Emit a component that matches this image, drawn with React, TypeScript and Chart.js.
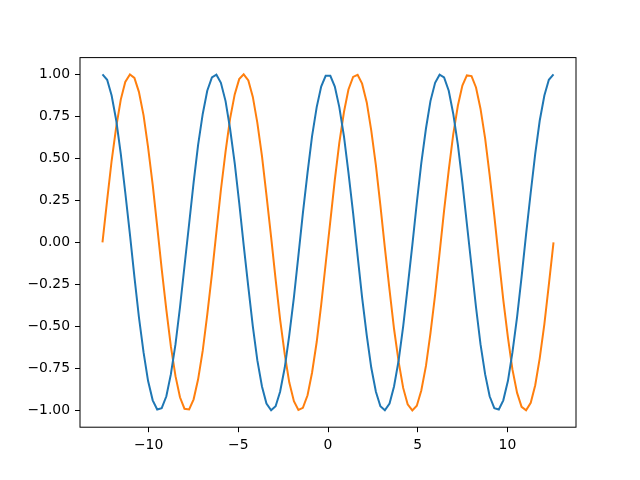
import { useEffect, useRef } from "react";
import { Chart, registerables } from "chart.js";

Chart.register(...registerables);

// sample positions, -4π .. 4π
const xValues = [
  -12.57, -12.31, -12.06, -11.80, -11.55, -11.30, -11.04, -10.79, -10.54, -10.28,
  -10.03, -9.77, -9.52, -9.27, -9.01, -8.76, -8.50, -8.25, -8.00, -7.74,
  -7.49, -7.24, -6.98, -6.73, -6.47, -6.22, -5.97, -5.71, -5.46, -5.20,
  -4.95, -4.70, -4.44, -4.19, -3.94, -3.68, -3.43, -3.17, -2.92, -2.67,
  -2.41, -2.16, -1.90, -1.65, -1.40, -1.14, -0.89, -0.63, -0.38, -0.13,
  0.13, 0.38, 0.63, 0.89, 1.14, 1.40, 1.65, 1.90, 2.16, 2.41,
  2.67, 2.92, 3.17, 3.43, 3.68, 3.94, 4.19, 4.44, 4.70, 4.95,
  5.20, 5.46, 5.71, 5.97, 6.22, 6.47, 6.73, 6.98, 7.24, 7.49,
  7.74, 8.00, 8.25, 8.50, 8.76, 9.01, 9.27, 9.52, 9.77, 10.03,
  10.28, 10.54, 10.79, 11.04, 11.30, 11.55, 11.80, 12.06, 12.31, 12.57,
];

const cosValues = [
  1.000, 0.968, 0.874, 0.724, 0.527, 0.297, 0.048, -0.205, -0.444, -0.655,
  -0.824, -0.940, -0.995, -0.987, -0.916, -0.786, -0.606, -0.386, -0.142, 0.111,
  0.357, 0.580, 0.766, 0.903, 0.982, 0.998, 0.950, 0.841, 0.678, 0.472,
  0.236, -0.016, -0.266, -0.500, -0.701, -0.858, -0.959, -0.999, -0.975, -0.889,
  -0.745, -0.554, -0.327, -0.079, 0.174, 0.415, 0.631, 0.805, 0.928, 0.992,
  0.992, 0.928, 0.805, 0.631, 0.415, 0.174, -0.079, -0.327, -0.554, -0.745,
  -0.889, -0.975, -0.999, -0.959, -0.858, -0.701, -0.500, -0.266, -0.016, 0.236,
  0.472, 0.678, 0.841, 0.950, 0.998, 0.982, 0.903, 0.766, 0.580, 0.357,
  0.111, -0.142, -0.386, -0.606, -0.786, -0.916, -0.987, -0.995, -0.940, -0.824,
  -0.655, -0.444, -0.205, 0.048, 0.297, 0.527, 0.724, 0.874, 0.968, 1.000,
];

const sinValues = [
  0.000, 0.251, 0.486, 0.690, 0.850, 0.955, 0.999, 0.979, 0.896, 0.756,
  0.567, 0.342, 0.095, -0.158, -0.401, -0.618, -0.796, -0.922, -0.990, -0.994,
  -0.934, -0.815, -0.643, -0.430, -0.189, 0.063, 0.312, 0.541, 0.735, 0.881,
  0.972, 1.000, 0.964, 0.866, 0.713, 0.514, 0.282, 0.032, -0.220, -0.458,
  -0.667, -0.833, -0.945, -0.997, -0.985, -0.910, -0.776, -0.593, -0.372, -0.127,
  0.127, 0.372, 0.593, 0.776, 0.910, 0.985, 0.997, 0.945, 0.833, 0.667,
  0.458, 0.220, -0.032, -0.282, -0.514, -0.713, -0.866, -0.964, -1.000, -0.972,
  -0.881, -0.735, -0.541, -0.312, -0.063, 0.189, 0.430, 0.643, 0.815, 0.934,
  0.994, 0.990, 0.922, 0.796, 0.618, 0.401, 0.158, -0.095, -0.342, -0.567,
  -0.756, -0.896, -0.979, -0.999, -0.955, -0.850, -0.690, -0.486, -0.251, 0.000,
];

const xTicks = [-10, -5, 0, 5, 10];
const yTicks = [-1, -0.75, -0.5, -0.25, 0, 0.25, 0.5, 0.75, 1];

const minus = (s: string) => s.replace("-", "\u2212");

// box round the plot area, like matplotlib's spines
const framePlugin = {
  id: "frame",
  afterDraw(chart: Chart) {
    const { ctx, chartArea } = chart;
    ctx.save();
    ctx.strokeStyle = "#000";
    ctx.lineWidth = 1;
    ctx.strokeRect(chartArea.left, chartArea.top, chartArea.right - chartArea.left, chartArea.bottom - chartArea.top);
    ctx.restore();
  },
};

export default function App() {
  const canvasRef = useRef<HTMLCanvasElement>(null);

  useEffect(() => {
    if (!canvasRef.current) return;
    const font = { family: "'DejaVu Sans', sans-serif", size: 13.9 };
    const tickGrid = {
      display: true,
      drawOnChartArea: false,
      drawTicks: true,
      tickLength: 5,
      color: "#000",
      lineWidth: 1,
    };

    const chart = new Chart(canvasRef.current, {
      type: "line",
      data: {
        datasets: [
          {
            data: xValues.map((x, i) => ({ x, y: cosValues[i] })),
            borderColor: "#1f77b4",
            borderWidth: 2,
            pointRadius: 0,
            tension: 0,
          },
          {
            data: xValues.map((x, i) => ({ x, y: sinValues[i] })),
            borderColor: "#ff7f0e",
            borderWidth: 2,
            pointRadius: 0,
            tension: 0,
          },
        ],
      },
      options: {
        animation: false,
        responsive: true,
        maintainAspectRatio: false,
        layout: { padding: { left: 0, right: 64, top: 57.6, bottom: 0 } },
        plugins: { legend: { display: false }, tooltip: { enabled: false } },
        scales: {
          x: {
            type: "linear",
            min: -13.823,
            max: 13.823,
            grid: tickGrid,
            border: { display: false },
            afterBuildTicks: (scale: any) => {
              scale.ticks = xTicks.map((v) => ({ value: v }));
            },
            afterFit: (scale: any) => {
              scale.height = 52.8;
            },
            ticks: {
              color: "#000",
              font,
              padding: 5,
              maxRotation: 0,
              callback: (v: any) => minus(String(v)),
            },
          },
          y: {
            type: "linear",
            min: -1.1,
            max: 1.1,
            grid: tickGrid,
            border: { display: false },
            afterBuildTicks: (scale: any) => {
              scale.ticks = yTicks.map((v) => ({ value: v }));
            },
            afterFit: (scale: any) => {
              scale.width = 80;
            },
            ticks: {
              color: "#000",
              font,
              padding: 5,
              callback: (v: any) => minus(Number(v).toFixed(2)),
            },
          },
        },
      },
      plugins: [framePlugin],
    });

    return () => chart.destroy();
  }, []);

  return (
    <div style={{ position: "fixed", left: 0, top: 0, width: 640, height: 480, background: "#fff" }}>
      <canvas ref={canvasRef} />
    </div>
  );
}
